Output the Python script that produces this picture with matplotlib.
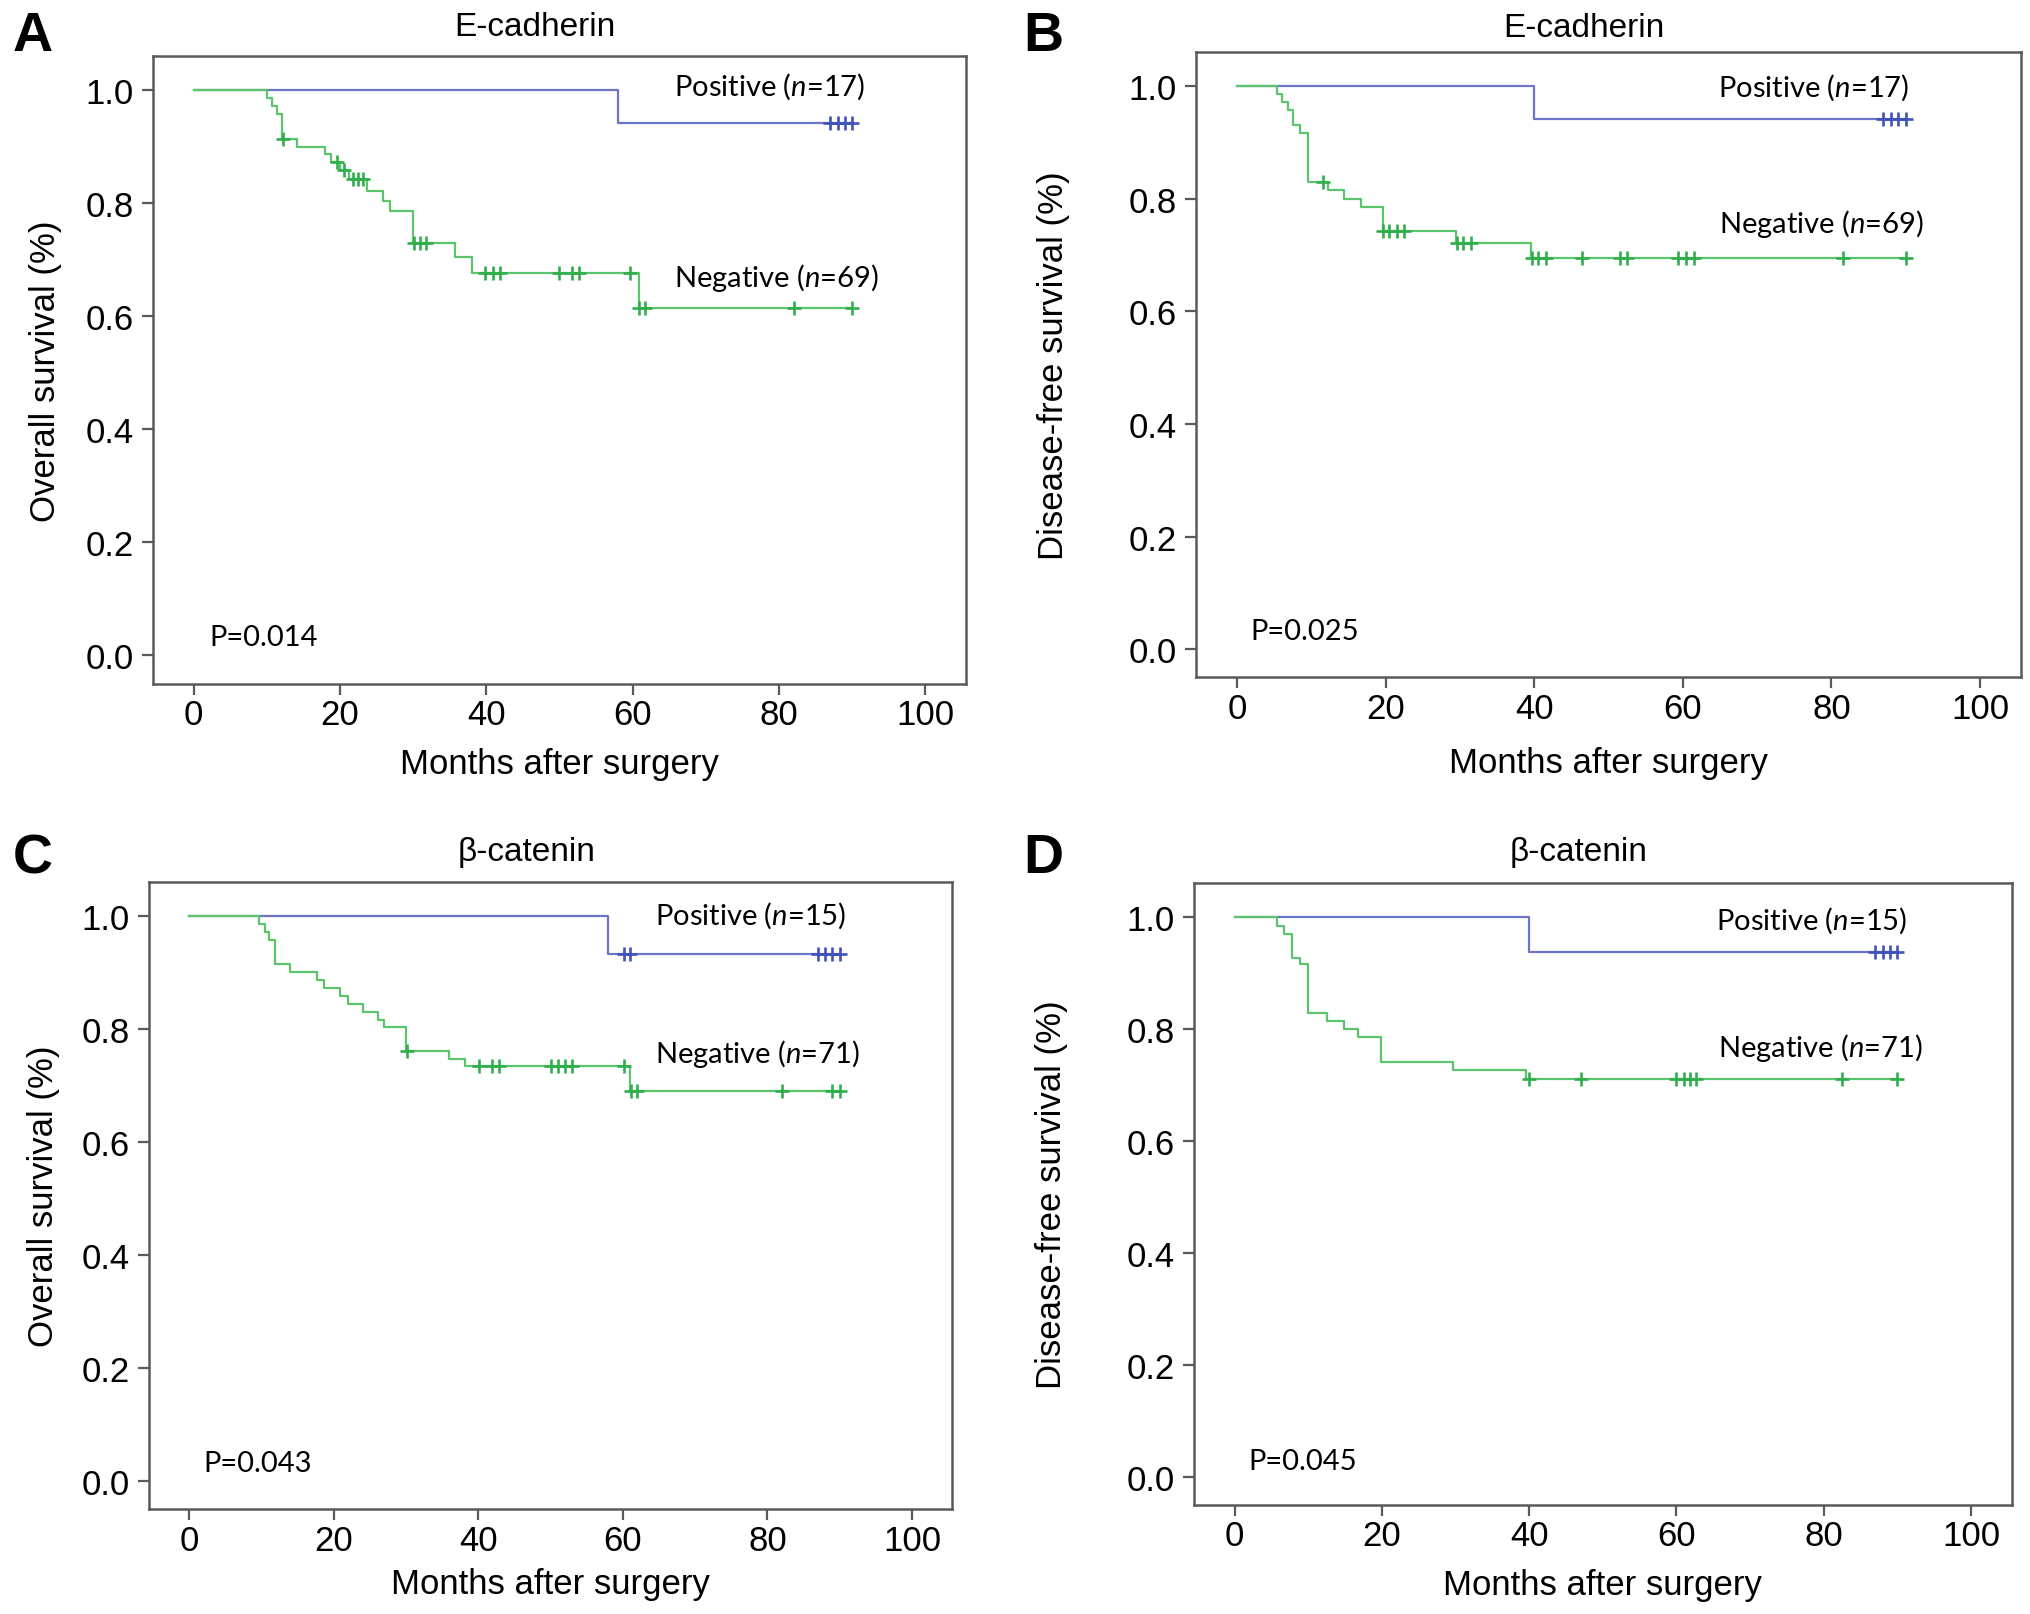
import numpy as np
import matplotlib
matplotlib.use('Agg')
import matplotlib.pyplot as plt

plt.rcParams['font.family'] = ['Liberation Sans', 'DejaVu Sans']
plt.rcParams['mathtext.fontset'] = 'custom'
plt.rcParams['mathtext.rm'] = 'Lato'
plt.rcParams['mathtext.it'] = 'Lato:italic'

# --- datos (meses, supervivencia) ---
# A: E-cadherina, supervivencia global
a_pos_t = [58]
a_pos_s = [0.941]
a_pos_c = [87, 88, 89, 90]
a_neg_t = [10, 10.7, 11.4, 12.1, 14.1, 18.0, 18.8, 20.0, 21.2, 23.7, 25.9, 26.8, 30.0, 35.7, 38.0, 60.8]
a_neg_s = [0.986, 0.971, 0.957, 0.913, 0.899, 0.887, 0.873, 0.858, 0.843, 0.822, 0.804, 0.786, 0.729, 0.704, 0.677, 0.615]
a_neg_c = [12.2, 19.6, 20.6, 21.8, 22.5, 23.2, 30.1, 30.9, 31.8, 39.8, 40.9, 41.9, 49.9, 51.7, 52.6,
           59.6, 60.9, 61.7, 82, 90]

# B: E-cadherina, supervivencia libre de enfermedad
b_pos_t = [40]
b_pos_s = [0.941]
b_pos_c = [87, 88, 89, 90]
b_neg_t = [5.4, 6.1, 6.8, 7.5, 8.4, 9.5, 12.2, 14.4, 16.7, 19.6, 29.4, 39.5]
b_neg_s = [0.986, 0.971, 0.957, 0.930, 0.916, 0.829, 0.816, 0.800, 0.786, 0.743, 0.722, 0.694]
b_neg_c = [11.5, 19.7, 20.5, 21.5, 22.5, 29.6, 30.4, 31.5, 39.7, 40.5, 41.6, 46.4, 51.5, 52.5,
           59.3, 60.4, 61.5, 81.5, 90]

# C: beta-catenina, supervivencia global
c_pos_t = [58]
c_pos_s = [0.933]
c_pos_c = [60.1, 61.0, 87, 88, 89, 90]
c_neg_t = [9.6, 10.5, 11.0, 11.9, 14.0, 17.7, 18.7, 20.8, 21.9, 24.0, 26.1, 27.0, 30.0, 35.9, 38.1, 61.0]
c_neg_s = [0.986, 0.972, 0.958, 0.915, 0.901, 0.887, 0.873, 0.859, 0.845, 0.831, 0.817, 0.803,
           0.762, 0.748, 0.734, 0.691]
c_neg_c = [30.1, 40.1, 41.9, 42.9, 50.1, 51.0, 52.0, 52.9, 60.1, 61.1, 61.9, 82, 89, 90]

# D: beta-catenina, supervivencia libre de enfermedad
d_pos_t = [40]
d_pos_s = [0.937]
d_pos_c = [87, 88, 89, 90]
d_neg_t = [5.8, 6.7, 7.8, 8.8, 10.0, 12.6, 14.9, 16.7, 19.9, 29.7, 39.6]
d_neg_s = [0.984, 0.969, 0.927, 0.915, 0.828, 0.813, 0.799, 0.785, 0.741, 0.726, 0.711]
d_neg_c = [40.0, 47, 60, 61, 61.8, 62.6, 82.5, 90]

paneles = [
    dict(letra='A', titulo='E-cadherin', ylabel='Overall survival (%)', p='P=0.014',
         pos=(a_pos_t, a_pos_s, a_pos_c), neg=(a_neg_t, a_neg_s, a_neg_c), n=(17, 69),
         pad=17, xpad=11.5, ytit=1.047,
         rect=[0.0755, 0.576, 0.400, 0.3886], txt=((65.7, 1.007), (65.7, 0.669), (2.1, 0.032))),
    dict(letra='B', titulo='E-cadherin', ylabel='Disease-free survival (%)', p='P=0.025',
         pos=(b_pos_t, b_pos_s, b_pos_c), neg=(b_neg_t, b_neg_s, b_neg_c), n=(17, 69),
         pad=42, xpad=15.5, ytit=1.040,
         rect=[0.589, 0.580, 0.406, 0.387], txt=((64.7, 0.998), (64.9, 0.757), (1.75, 0.032))),
    dict(letra='C', titulo='β-catenin', ylabel='Overall survival (%)', p='P=0.043',
         pos=(c_pos_t, c_pos_s, c_pos_c), neg=(c_neg_t, c_neg_s, c_neg_c), n=(15, 71),
         pad=16, xpad=7.5, ytit=1.050,
         rect=[0.0736, 0.065, 0.395, 0.388], txt=((64.4, 1.002), (64.4, 0.758), (2.0, 0.032))),
    dict(letra='D', titulo='β-catenin', ylabel='Disease-free survival (%)', p='P=0.045',
         pos=(d_pos_t, d_pos_s, d_pos_c), neg=(d_neg_t, d_neg_s, d_neg_c), n=(15, 71),
         pad=42, xpad=11.5, ytit=1.050,
         rect=[0.588, 0.0676, 0.4024, 0.385], txt=((65.3, 0.995), (65.7, 0.767), (1.9, 0.028))),
]

AZUL = '#6d76c6'
AZUL_M = '#4152b8'
VERDE = '#5cc46c'
VERDE_M = '#2fae4c'
GRIS = '#5a5a5a'


def nivel(t, tiempos, niveles):
    idx = np.searchsorted(tiempos, t, side='right') - 1
    return np.where(idx < 0, 1.0, np.array(niveles)[np.clip(idx, 0, None)])


def curva(ax, datos, color, color_m):
    tiempos, niveles, cens = datos
    fin = max(cens)
    xs = [0] + list(tiempos) + [fin]
    ys = [1.0] + list(niveles) + [niveles[-1]]
    ax.step(xs, ys, where='post', color=color, lw=1.6, zorder=2)
    ax.plot(cens, nivel(np.array(cens), tiempos, niveles), ls='none', marker='+',
            ms=10, mew=1.9, color=color_m, zorder=3)


fig = plt.figure(figsize=(20.31, 16.15), dpi=100)

for pan in paneles:
    ax = fig.add_axes(pan['rect'])
    curva(ax, pan['pos'], AZUL, AZUL_M)
    curva(ax, pan['neg'], VERDE, VERDE_M)

    ax.set_xlim(-5.5, 105.5)
    ax.set_ylim(-0.05, 1.06)
    ax.set_xticks([0, 20, 40, 60, 80, 100])
    ax.set_yticks([0.0, 0.2, 0.4, 0.6, 0.8, 1.0])
    ax.set_yticklabels(['0.0', '0.2', '0.4', '0.6', '0.8', '1.0'])
    ax.tick_params(direction='out', length=8, width=1.6, color=GRIS, labelsize=25, pad=6)
    ax.tick_params(axis='x', pad=2.5)
    for s in ax.spines.values():
        s.set_color(GRIS)
        s.set_linewidth(1.8)

    ax.set_xlabel('Months after surgery', fontsize=25, labelpad=pan['xpad'])
    ax.set_ylabel(pan['ylabel'], fontsize=25, labelpad=pan['pad'])
    ax.text(0.47, pan['ytit'], pan['titulo'], transform=ax.transAxes, ha='center', va='center', fontsize=24)

    (xp, yp), (xn, yn), (xv, yv) = pan['txt']
    npos, nneg = pan['n']
    ax.text(xp, yp, 'Positive ($\\it{n}$=%d)' % npos, fontsize=21, family='Lato', ha='left', va='center')
    ax.text(xn, yn, 'Negative ($\\it{n}$=%d)' % nneg, fontsize=21, family='Lato', ha='left', va='center')
    ax.text(xv, yv, pan['p'], fontsize=21, family='Lato', ha='left', va='center')

    x0 = 0.0064 if pan['letra'] in 'AC' else 0.504
    y0 = 0.977 if pan['letra'] in 'AB' else 0.468
    fig.text(x0, y0, pan['letra'], fontsize=40, fontweight='bold', ha='left', va='center')

fig.savefig('out.png', dpi=100)
